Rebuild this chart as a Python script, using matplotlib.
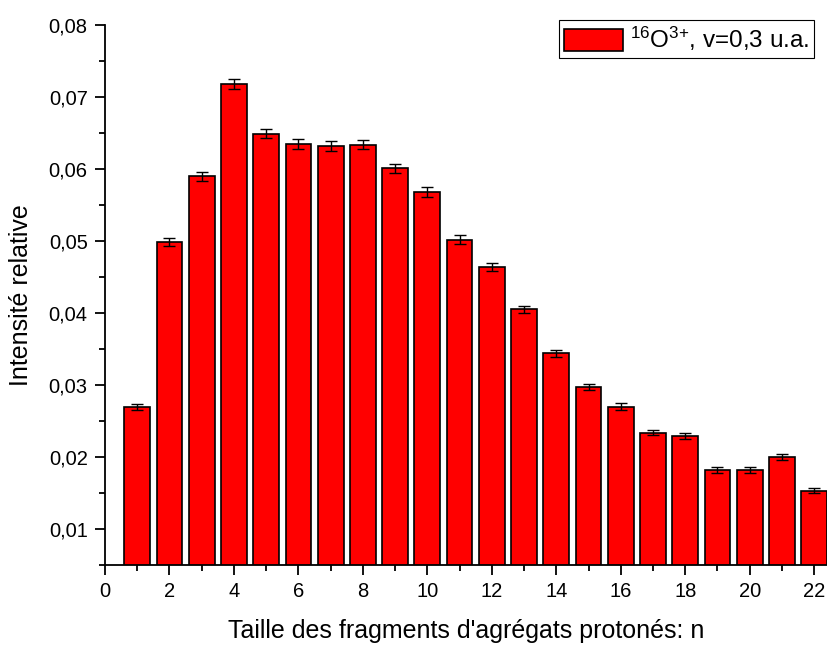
import numpy as np
import matplotlib
matplotlib.use('Agg')
import matplotlib.pyplot as plt
from matplotlib.ticker import MultipleLocator, FuncFormatter

plt.rcParams['font.family'] = ['Liberation Sans', 'DejaVu Sans']
plt.rcParams['mathtext.fontset'] = 'custom'
plt.rcParams['mathtext.rm'] = 'Liberation Sans'
plt.rcParams['mathtext.it'] = 'Liberation Sans:italic'

# taille n des fragments et intensite relative
n = [1, 2, 3, 4, 5, 6, 7, 8, 9, 10, 11,
     12, 13, 14, 15, 16, 17, 18, 19, 20, 21, 22]
intensite = [0.0270, 0.0499, 0.0590, 0.0718, 0.0649, 0.0635, 0.0632, 0.0634, 0.0601, 0.0568, 0.0502,
             0.0464, 0.0405, 0.0344, 0.0297, 0.0270, 0.0234, 0.0229, 0.0182, 0.0182, 0.0200, 0.0153]
erreur = [0.00042, 0.00053, 0.00062, 0.00067, 0.00065, 0.00066, 0.00065, 0.00066, 0.00065, 0.00064, 0.00058,
          0.00058, 0.00053, 0.00049, 0.00046, 0.00046, 0.00040, 0.00040, 0.00040, 0.00040, 0.00035, 0.00033]

fig = plt.figure(figsize=(8.28, 6.51), dpi=100)
ax = fig.add_axes([105/828, 86/651, 1 - 105/828, (565 - 25)/651])

ax.bar(n, intensite, width=0.8, color='#ff0000', edgecolor='black', linewidth=1.2,
       label=r'$\mathregular{^{16}}$O$\mathregular{^{3{+}}}$, v=0,3 u.a.', zorder=2)
ax.errorbar(n, intensite, yerr=erreur, fmt='none', ecolor='black', elinewidth=1.0,
            capsize=4, capthick=1.0, zorder=3)

ax.set_xlim(0, 22.43)
ax.set_ylim(0.005, 0.08)
ax.xaxis.set_major_locator(MultipleLocator(2))
ax.xaxis.set_minor_locator(MultipleLocator(1))
ax.yaxis.set_major_locator(MultipleLocator(0.01))
ax.yaxis.set_minor_locator(MultipleLocator(0.005))
ax.yaxis.set_major_formatter(FuncFormatter(lambda v, p: ('%.2f' % v).replace('.', ',')))

for s in ['top', 'right']:
    ax.spines[s].set_visible(False)
for s in ['left', 'bottom']:
    ax.spines[s].set_linewidth(1.3)

ax.tick_params(which='major', direction='out', length=7.5, width=1.3, labelsize=14.5, pad=5)
ax.tick_params(which='minor', direction='out', length=4.5, width=1.3)

ax.set_xlabel("Taille des fragments d'agrégats protonés: n", fontsize=18, labelpad=13)
ax.set_ylabel('Intensité relative', fontsize=18, labelpad=11.5)

leg = ax.legend(loc='upper right', bbox_to_anchor=(814/828, 1 - 20/651),
                bbox_transform=fig.transFigure, borderaxespad=0, fontsize=17.5,
                fancybox=False, framealpha=1, edgecolor='black',
                handlelength=2.4, handleheight=1.0, handletextpad=0.3,
                borderpad=0.2)
leg.get_frame().set_linewidth(0.8)

fig.savefig('out.png', dpi=100)
